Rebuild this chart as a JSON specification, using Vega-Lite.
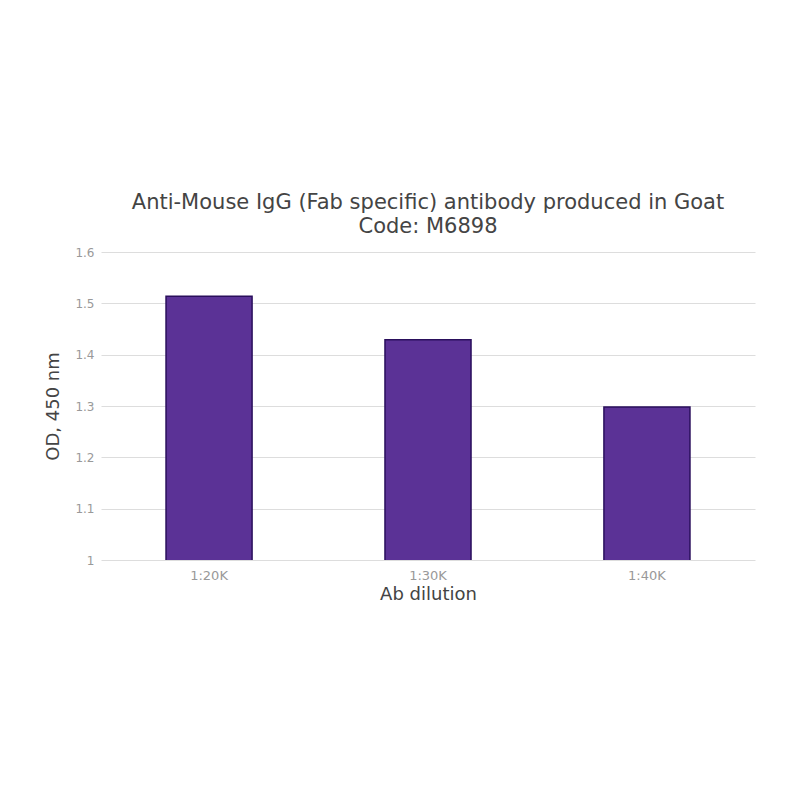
{
  "$schema": "https://vega.github.io/schema/vega-lite/v6.json",
  "autosize": {"type": "none"},
  "width": 654,
  "height": 308,
  "padding": {"left": 101, "top": 252, "right": 45, "bottom": 240},
  "background": "white",
  "title": {
    "text": "Anti-Mouse IgG (Fab specific) antibody produced in Goat",
    "subtitle": "Code: M6898",
    "font": "DejaVu Sans",
    "fontSize": 21,
    "fontWeight": "normal",
    "color": "#444444",
    "subtitleFont": "DejaVu Sans",
    "subtitleFontSize": 21,
    "subtitleColor": "#444444",
    "subtitlePadding": 3,
    "anchor": "middle",
    "offset": 9
  },
  "data": {
    "values": [
      {"dilution": "1:20K", "od": 1.514},
      {"dilution": "1:30K", "od": 1.429},
      {"dilution": "1:40K", "od": 1.298}
    ]
  },
  "mark": {"type": "bar", "color": "#5b3296", "stroke": "#2a0f5c", "strokeWidth": 1.5, "clip": true},
  "encoding": {
    "x": {
      "field": "dilution",
      "type": "nominal",
      "title": "Ab dilution",
      "scale": {"paddingInner": 0.607, "paddingOuter": 0.297},
      "axis": {
        "labelAngle": 0,
        "domain": false,
        "ticks": false,
        "labelPadding": 9,
        "labelFont": "DejaVu Sans",
        "labelFontSize": 13,
        "labelColor": "#999999",
        "titleFont": "DejaVu Sans",
        "titleFontSize": 18,
        "titleFontWeight": "normal",
        "titleColor": "#444444",
        "titlePadding": 3
      }
    },
    "y": {
      "field": "od",
      "type": "quantitative",
      "title": "OD, 450 nm",
      "scale": {"domain": [1, 1.6], "zero": false, "nice": false},
      "axis": {
        "values": [1, 1.1, 1.2, 1.3, 1.4, 1.5, 1.6],
        "format": "~g",
        "domain": false,
        "ticks": false,
        "grid": true,
        "gridColor": "#dddddd",
        "labelPadding": 7,
        "labelFont": "DejaVu Sans",
        "labelFontSize": 12,
        "labelColor": "#999999",
        "titleFont": "DejaVu Sans",
        "titleFontSize": 18,
        "titleFontWeight": "normal",
        "titleColor": "#444444",
        "titlePadding": 12
      }
    }
  },
  "config": {"view": {"stroke": null}}
}
